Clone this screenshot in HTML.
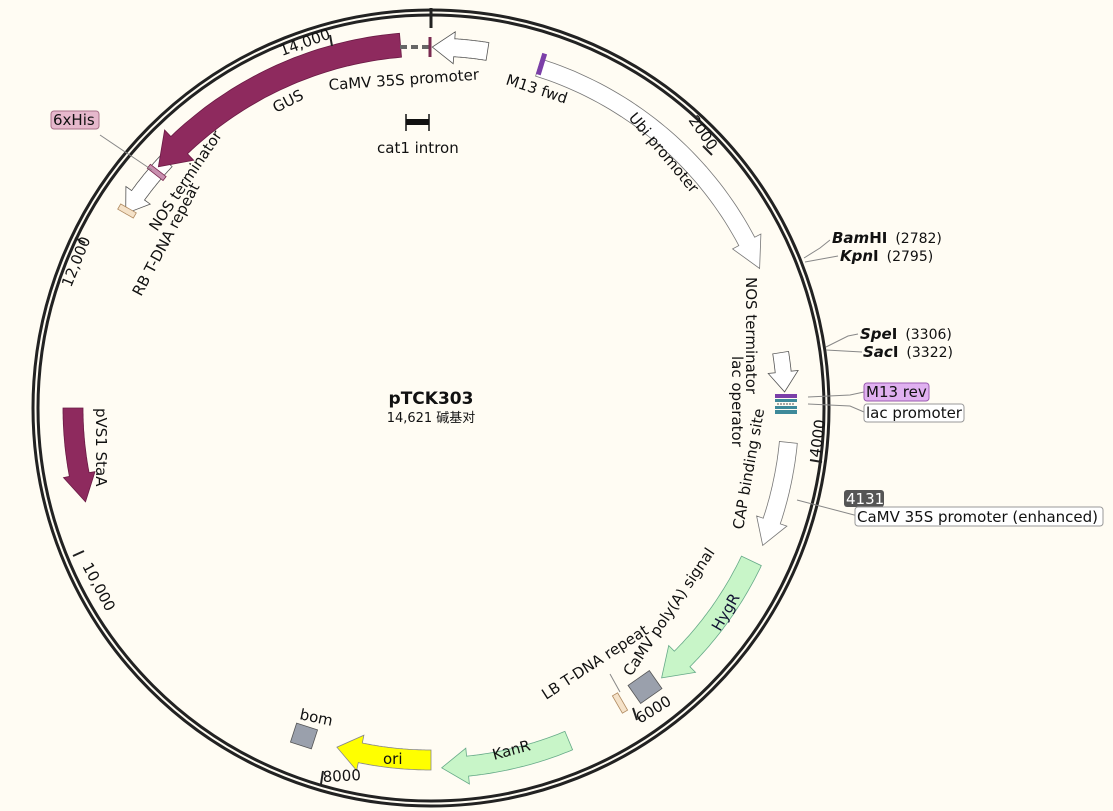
<!DOCTYPE html>
<html><head><meta charset="utf-8">
<style>
html,body{margin:0;padding:0;background:#fffcf3;}
svg{display:block;}
text{font-family:"DejaVu Sans","Liberation Sans",sans-serif;font-size:15px;fill:#111;}
</style></head>
<body>
<svg id="s" width="1113" height="811" viewBox="0 0 1113 811" xmlns="http://www.w3.org/2000/svg">
<rect width="1113" height="811" fill="#fffcf3"/>
<circle cx="431" cy="408" r="398" fill="none" stroke="#222" stroke-width="3"/>
<circle cx="431" cy="408" r="393" fill="none" stroke="#222" stroke-width="3"/>
<line x1="431" y1="8" x2="431" y2="28" stroke="#222" stroke-width="3"/>
<g id="feat"></g>
<path d="M400,47 L430,47" stroke="#666" stroke-width="4" stroke-dasharray="7,4" fill="none"/>
<line x1="430" y1="37" x2="430" y2="57" stroke="#7a2a50" stroke-width="3"/>
<line x1="406" y1="114" x2="406" y2="131" stroke="#111" stroke-width="1.5"/>
<line x1="429" y1="114" x2="429" y2="131" stroke="#111" stroke-width="1.5"/>
<rect x="406" y="119" width="23" height="6" fill="#111"/>
<rect x="539" y="53" width="5" height="22" fill="#7b3fa8" transform="rotate(17 541 64)"/>
<rect x="118" y="208" width="18" height="6" fill="#f5e2c8" stroke="#b08a60" stroke-width="0.8" transform="rotate(30 127 211)"/>
<rect x="147" y="170" width="20" height="5" fill="#c98fb0" stroke="#7a2a50" stroke-width="0.8" transform="rotate(38 157 172)"/>
<rect x="617" y="693" width="6" height="20" fill="#f5e2c8" stroke="#b08a60" stroke-width="0.8" transform="rotate(-30 620 703)"/>
<rect x="632" y="676" width="26" height="22" fill="#9aa0ac" stroke="#555" stroke-width="0.8" transform="rotate(-35 645 687)"/>
<rect x="293" y="726" width="22" height="20" fill="#9aa0ac" stroke="#555" stroke-width="0.8" transform="rotate(18 304 736)"/>
<rect x="775" y="394" width="22" height="4" fill="#7b3fa8"/>
<rect x="775" y="399" width="22" height="3" fill="#3e8a9a"/>
<line x1="777" y1="404" x2="795" y2="404" stroke="#555" stroke-dasharray="2,1"/>
<rect x="775" y="406" width="22" height="3" fill="#3e8a9a"/>
<rect x="775" y="410" width="22" height="4" fill="#3e8a9a"/>
<g stroke="#222" stroke-width="2">
<line x1="712" y1="155" x2="703" y2="146"/>
<line x1="822" y1="462" x2="810" y2="460"/>
<line x1="637" y1="720" x2="633" y2="708"/>
<line x1="321" y1="784" x2="323" y2="771"/>
<line x1="73" y1="556" x2="84" y2="551"/>
<line x1="75" y1="238" x2="85" y2="243"/>
<line x1="330" y1="35" x2="332" y2="46"/>
</g>
<text transform="translate(688,120) rotate(55)">2000</text>
<text transform="translate(820,458) rotate(-82)">4000</text>
<text transform="translate(640,724) rotate(-32)">6000</text>
<text transform="translate(323,782) rotate(-3)">8000</text>
<text transform="translate(82,566) rotate(62)">10,000</text>
<text transform="translate(71,288) rotate(-68)">12,000</text>
<text transform="translate(282,56) rotate(-20)">14,000</text>
<text transform="translate(329,90) rotate(-4)">CaMV 35S promoter</text>
<text transform="translate(505,84) rotate(18)">M13 fwd</text>
<text transform="translate(628,118) rotate(50)">Ubi promoter</text>
<text transform="translate(276,113) rotate(-27)">GUS</text>
<text transform="translate(157,232) rotate(-56)">NOS terminator</text>
<text transform="translate(141,297) rotate(-62)">RB T-DNA repeat</text>
<text x="377" y="153">cat1 intron</text>
<text transform="translate(746,277) rotate(90)">NOS terminator</text>
<text transform="translate(732,356) rotate(90)">lac operator</text>
<text transform="translate(743,530) rotate(-80)">CAP binding site</text>
<text transform="translate(631,677) rotate(-56)">CaMV poly(A) signal</text>
<text transform="translate(720,632) rotate(-60)" style="fill:#113">HygR</text>
<text transform="translate(494,760) rotate(-15)">KanR</text>
<text transform="translate(546,700) rotate(-33)">LB T-DNA repeat</text>
<text x="383" y="764">ori</text>
<text transform="translate(299,719) rotate(12)">bom</text>
<text transform="translate(96,408) rotate(90)">pVS1 StaA</text>
<text x="431" y="404" text-anchor="middle" style="font-weight:bold;font-size:17px">pTCK303</text>
<text x="431" y="422" text-anchor="middle" style="font-size:13px;font-family:'DejaVu Sans','Noto Sans CJK SC',sans-serif">14,621 碱基对</text>
<g stroke="#888" stroke-width="1" fill="none">
<path d="M804,258 L820,248 L830,240"/><path d="M805,262 L838,256"/>
<path d="M826,347 L848,336 L858,334"/><path d="M826,350 L862,352"/>
<path d="M808,397 L850,395 L864,392"/><path d="M808,404 L850,406 L864,412"/>
<path d="M797,500 L858,516"/>
<path d="M100,135 L152,170"/>
<path d="M610,674 L620,692"/>
</g>
<text x="832" y="243"><tspan font-weight="bold" font-style="italic">Bam</tspan><tspan font-weight="bold">HI</tspan><tspan dx="8" font-size="14">(2782)</tspan></text>
<text x="840" y="261"><tspan font-weight="bold" font-style="italic">Kpn</tspan><tspan font-weight="bold">I</tspan><tspan dx="8" font-size="14">(2795)</tspan></text>
<text x="860" y="339"><tspan font-weight="bold" font-style="italic">Spe</tspan><tspan font-weight="bold">I</tspan><tspan dx="8" font-size="14">(3306)</tspan></text>
<text x="863" y="357"><tspan font-weight="bold" font-style="italic">Sac</tspan><tspan font-weight="bold">I</tspan><tspan dx="8" font-size="14">(3322)</tspan></text>
<rect x="864" y="383" width="65" height="18" rx="3" fill="#e0b0f0" stroke="#9a5ab0"/>
<text x="866" y="397">M13 rev</text>
<rect x="864" y="404" width="100" height="18" rx="3" fill="#fff" stroke="#999"/>
<text x="866" y="418">lac promoter</text>
<rect x="844" y="490" width="40" height="17" rx="3" fill="#555"/>
<text x="846" y="504" style="fill:#fff">4131</text>
<rect x="855" y="507" width="248" height="19" rx="3" fill="#fff" stroke="#999"/>
<text x="857" y="522">CaMV 35S promoter (enhanced)</text>
<rect x="51" y="111" width="48" height="18" rx="3" fill="#e6b8cc" stroke="#a86f88"/>
<text x="53" y="125">6xHis</text>
</svg>
<script>
var cx=431,cy=408;
function P(a,r){var t=a*Math.PI/180;return [cx+r*Math.sin(t),cy-r*Math.cos(t)];}
function arrow(a1,a2,r,w,hl,hw,fill,stroke){
 var dir=a2>a1?1:-1,hd=hl/r*180/Math.PI*dir,ab=a2-hd,pts=[],n=40,i;
 for(i=0;i<=n;i++){pts.push(P(a1+(ab-a1)*i/n,r+w/2));}
 pts.push(P(ab,r+w/2+hw));pts.push(P(a2,r));pts.push(P(ab,r-w/2-hw));
 for(i=n;i>=0;i--){pts.push(P(a1+(ab-a1)*i/n,r-w/2));}
 var d='M'+pts.map(function(p){return p[0].toFixed(1)+','+p[1].toFixed(1);}).join(' L')+' Z';
 var e=document.createElementNS('http://www.w3.org/2000/svg','path');
 e.setAttribute('d',d);e.setAttribute('fill',fill);e.setAttribute('stroke',stroke);e.setAttribute('stroke-width','0.8');
 document.getElementById('feat').appendChild(e);
}
arrow(17.5,67,357,18,30,7,'#fff','#777');
arrow(81,87.4,354,16,20,7,'#fff','#555');
arrow(95.5,112.5,359,18,26,7,'#fff','#777');
arrow(115.5,139.5,355,22,28,8,'#c8f5c8','#6a8');
arrow(157.5,178.3,360,20,26,8,'#c8f5c8','#6a8');
arrow(180,195.5,352,20,24,8,'#ffff00','#888');
arrow(270,254.8,358,20,28,6,'#8e2a5e','#6a1a44');
arrow(313,302.5,362,16,22,7,'#fff','#555');
arrow(355.2,311.5,364,24,30,9,'#8e2a5e','#6a1a44');
arrow(9,0.2,361,18,22,7,'#fff','#555');
</script>
</body></html>
